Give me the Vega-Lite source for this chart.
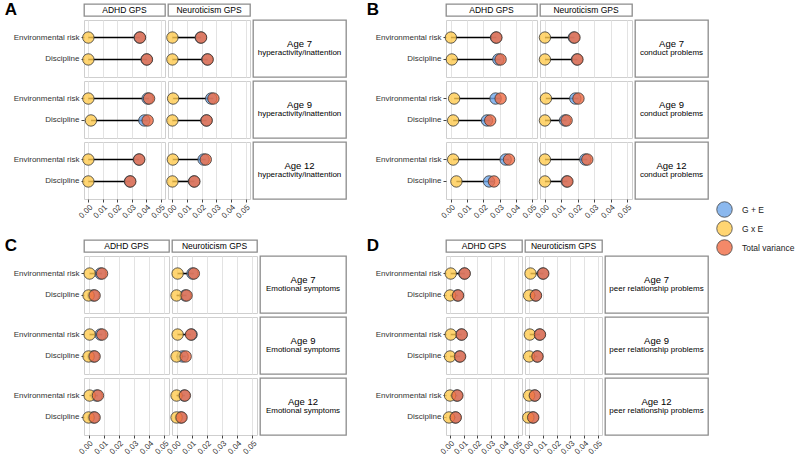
{
"$schema":"https://vega.github.io/schema/vega-lite/v6.json",
"padding":{"left":4,"top":1,"right":2,"bottom":0},
"background":"white",
"data":{"values":[
{"k":"A7a","exp":"Environmental risk","G + E":0.0355,"G x E":0.0,"Total variance":0.0357},
{"k":"A7a","exp":"Discipline","G + E":0.0403,"G x E":0.0,"Total variance":0.0405},
{"k":"A7n","exp":"Environmental risk","G + E":0.0194,"G x E":0.0,"Total variance":0.0196},
{"k":"A7n","exp":"Discipline","G + E":0.0238,"G x E":0.0,"Total variance":0.0241},
{"k":"A9a","exp":"Environmental risk","G + E":0.041,"G x E":0.0,"Total variance":0.042},
{"k":"A9a","exp":"Discipline","G + E":0.0387,"G x E":0.0018,"Total variance":0.041},
{"k":"A9n","exp":"Environmental risk","G + E":0.0265,"G x E":0.0005,"Total variance":0.028},
{"k":"A9n","exp":"Discipline","G + E":0.0232,"G x E":0.0,"Total variance":0.0234},
{"k":"A12a","exp":"Environmental risk","G + E":0.035,"G x E":0.0,"Total variance":0.0352},
{"k":"A12a","exp":"Discipline","G + E":0.0288,"G x E":0.0,"Total variance":0.029},
{"k":"A12n","exp":"Environmental risk","G + E":0.0213,"G x E":0.0003,"Total variance":0.0228},
{"k":"A12n","exp":"Discipline","G + E":0.0148,"G x E":0.0,"Total variance":0.015},
{"k":"B7a","exp":"Environmental risk","G + E":0.0278,"G x E":0.0,"Total variance":0.028},
{"k":"B7a","exp":"Discipline","G + E":0.0292,"G x E":0.0006,"Total variance":0.0306},
{"k":"B7n","exp":"Environmental risk","G + E":0.0176,"G x E":0.0,"Total variance":0.018},
{"k":"B7n","exp":"Discipline","G + E":0.0195,"G x E":0.0,"Total variance":0.0198},
{"k":"B9a","exp":"Environmental risk","G + E":0.0275,"G x E":0.002,"Total variance":0.0306},
{"k":"B9a","exp":"Discipline","G + E":0.0222,"G x E":0.0014,"Total variance":0.0242},
{"k":"B9n","exp":"Environmental risk","G + E":0.0185,"G x E":0.0006,"Total variance":0.0204},
{"k":"B9n","exp":"Discipline","G + E":0.0122,"G x E":0.0,"Total variance":0.0132},
{"k":"B12a","exp":"Environmental risk","G + E":0.0337,"G x E":0.0014,"Total variance":0.0358},
{"k":"B12a","exp":"Discipline","G + E":0.0235,"G x E":0.0034,"Total variance":0.0265},
{"k":"B12n","exp":"Environmental risk","G + E":0.0246,"G x E":0.0,"Total variance":0.0258},
{"k":"B12n","exp":"Discipline","G + E":0.0133,"G x E":0.0,"Total variance":0.0137},
{"k":"C7a","exp":"Environmental risk","G + E":0.0079,"G x E":0.0007,"Total variance":0.0089},
{"k":"C7a","exp":"Discipline","G + E":0.0032,"G x E":0.0,"Total variance":0.004},
{"k":"C7n","exp":"Environmental risk","G + E":0.0105,"G x E":0.0007,"Total variance":0.0114},
{"k":"C7n","exp":"Discipline","G + E":0.0058,"G x E":0.0,"Total variance":0.0066},
{"k":"C9a","exp":"Environmental risk","G + E":0.0079,"G x E":0.0007,"Total variance":0.009},
{"k":"C9a","exp":"Discipline","G + E":0.0033,"G x E":0.0,"Total variance":0.004},
{"k":"C9n","exp":"Environmental risk","G + E":0.0099,"G x E":0.0007,"Total variance":0.0095},
{"k":"C9n","exp":"Discipline","G + E":0.004,"G x E":0.0,"Total variance":0.006},
{"k":"C12a","exp":"Environmental risk","G + E":0.0053,"G x E":0.0007,"Total variance":0.0062},
{"k":"C12a","exp":"Discipline","G + E":0.0033,"G x E":0.0,"Total variance":0.004},
{"k":"C12n","exp":"Environmental risk","G + E":0.005,"G x E":0.0,"Total variance":0.0055},
{"k":"C12n","exp":"Discipline","G + E":0.0028,"G x E":0.0,"Total variance":0.0033},
{"k":"D7a","exp":"Environmental risk","G + E":0.0105,"G x E":0.0005,"Total variance":0.0108},
{"k":"D7a","exp":"Discipline","G + E":0.0055,"G x E":0.0,"Total variance":0.0059},
{"k":"D7n","exp":"Environmental risk","G + E":0.01,"G x E":0.001,"Total variance":0.0103},
{"k":"D7n","exp":"Discipline","G + E":0.0046,"G x E":0.0,"Total variance":0.005},
{"k":"D9a","exp":"Environmental risk","G + E":0.0083,"G x E":0.0005,"Total variance":0.0086},
{"k":"D9a","exp":"Discipline","G + E":0.007,"G x E":0.0,"Total variance":0.0074},
{"k":"D9n","exp":"Environmental risk","G + E":0.0076,"G x E":0.0005,"Total variance":0.0079},
{"k":"D9n","exp":"Discipline","G + E":0.0058,"G x E":0.0,"Total variance":0.0061},
{"k":"D12a","exp":"Environmental risk","G + E":0.005,"G x E":0.0,"Total variance":0.0054},
{"k":"D12a","exp":"Discipline","G + E":0.0038,"G x E":-0.0008,"Total variance":0.0042},
{"k":"D12n","exp":"Environmental risk","G + E":0.004,"G x E":0.0,"Total variance":0.0042},
{"k":"D12n","exp":"Discipline","G + E":0.0027,"G x E":-0.0006,"Total variance":0.003}
]},
"vconcat":[
{"hconcat":[
{"title":"A","columns":3,"spacing":{"row":4,"column":3},"bounds":"flush","align":"each","concat":[
{"width":81,"height":12,"data":{"values":[{"t":"ADHD GPS"}]},"view":{"stroke":"#8c8c8c","strokeWidth":1.3,"fill":"white"},"mark":{"type":"text","fontSize":8.5},"encoding":{"text":{"field":"t"}}},
{"width":82,"height":12,"data":{"values":[{"t":"Neuroticism GPS"}]},"view":{"stroke":"#8c8c8c","strokeWidth":1.3,"fill":"white"},"mark":{"type":"text","fontSize":8.5},"encoding":{"text":{"field":"t"}}},
{"width":93,"height":12,"data":{"values":[]},"view":{"stroke":null},"mark":{"type":"text","text":""},"encoding":{}},
{"width":81,"height":57,"transform":[{"filter":"datum.k=='A7a'"}],"encoding":{"y":{"field":"exp","type":"nominal","title":null,"sort":["Environmental risk","Discipline"],"scale":{"padding":0.6},"axis":{}}},"layer":[{"mark":{"type":"rule","color":"black","strokeWidth":1.6},"encoding":{"x":{"field":"G x E","type":"quantitative","title":null,"scale":{"domain":[-0.003,0.053],"nice":false},"axis":{"labels":false,"ticks":false}},"x2":{"field":"Total variance"}}},{"transform":[{"fold":["G + E","G x E","Total variance"],"as":["m","v"]}],"mark":"point","encoding":{"x":{"field":"v","type":"quantitative","title":null},"color":{"field":"m","type":"nominal","title":null}}}]},
{"width":82,"height":57,"transform":[{"filter":"datum.k=='A7n'"}],"encoding":{"y":{"field":"exp","type":"nominal","title":null,"sort":["Environmental risk","Discipline"],"scale":{"padding":0.6},"axis":{"labels":false,"ticks":false}}},"layer":[{"mark":{"type":"rule","color":"black","strokeWidth":1.6},"encoding":{"x":{"field":"G x E","type":"quantitative","title":null,"scale":{"domain":[-0.003,0.053],"nice":false},"axis":{"labels":false,"ticks":false}},"x2":{"field":"Total variance"}}},{"transform":[{"fold":["G + E","G x E","Total variance"],"as":["m","v"]}],"mark":"point","encoding":{"x":{"field":"v","type":"quantitative","title":null},"color":{"field":"m","type":"nominal","title":null}}}]},
{"width":93,"height":57,"data":{"values":[{"a":"Age 7","o":"hyperactivity/inattention"}]},"view":{"stroke":"#8c8c8c","strokeWidth":1.3,"fill":"white"},"layer":[{"mark":{"type":"text","fontSize":9.5,"dy":-5},"encoding":{"text":{"field":"a"}}},{"mark":{"type":"text","fontSize":8,"dy":4.5},"encoding":{"text":{"field":"o"}}}]},
{"width":81,"height":57,"transform":[{"filter":"datum.k=='A9a'"}],"encoding":{"y":{"field":"exp","type":"nominal","title":null,"sort":["Environmental risk","Discipline"],"scale":{"padding":0.6},"axis":{}}},"layer":[{"mark":{"type":"rule","color":"black","strokeWidth":1.6},"encoding":{"x":{"field":"G x E","type":"quantitative","title":null,"scale":{"domain":[-0.003,0.053],"nice":false},"axis":{"labels":false,"ticks":false}},"x2":{"field":"Total variance"}}},{"transform":[{"fold":["G + E","G x E","Total variance"],"as":["m","v"]}],"mark":"point","encoding":{"x":{"field":"v","type":"quantitative","title":null},"color":{"field":"m","type":"nominal","title":null}}}]},
{"width":82,"height":57,"transform":[{"filter":"datum.k=='A9n'"}],"encoding":{"y":{"field":"exp","type":"nominal","title":null,"sort":["Environmental risk","Discipline"],"scale":{"padding":0.6},"axis":{"labels":false,"ticks":false}}},"layer":[{"mark":{"type":"rule","color":"black","strokeWidth":1.6},"encoding":{"x":{"field":"G x E","type":"quantitative","title":null,"scale":{"domain":[-0.003,0.053],"nice":false},"axis":{"labels":false,"ticks":false}},"x2":{"field":"Total variance"}}},{"transform":[{"fold":["G + E","G x E","Total variance"],"as":["m","v"]}],"mark":"point","encoding":{"x":{"field":"v","type":"quantitative","title":null},"color":{"field":"m","type":"nominal","title":null}}}]},
{"width":93,"height":57,"data":{"values":[{"a":"Age 9","o":"hyperactivity/inattention"}]},"view":{"stroke":"#8c8c8c","strokeWidth":1.3,"fill":"white"},"layer":[{"mark":{"type":"text","fontSize":9.5,"dy":-5},"encoding":{"text":{"field":"a"}}},{"mark":{"type":"text","fontSize":8,"dy":4.5},"encoding":{"text":{"field":"o"}}}]},
{"width":81,"height":57,"transform":[{"filter":"datum.k=='A12a'"}],"encoding":{"y":{"field":"exp","type":"nominal","title":null,"sort":["Environmental risk","Discipline"],"scale":{"padding":0.6},"axis":{}}},"layer":[{"mark":{"type":"rule","color":"black","strokeWidth":1.6},"encoding":{"x":{"field":"G x E","type":"quantitative","title":null,"scale":{"domain":[-0.003,0.053],"nice":false},"axis":{"format":".2f"}},"x2":{"field":"Total variance"}}},{"transform":[{"fold":["G + E","G x E","Total variance"],"as":["m","v"]}],"mark":"point","encoding":{"x":{"field":"v","type":"quantitative","title":null},"color":{"field":"m","type":"nominal","title":null}}}]},
{"width":82,"height":57,"transform":[{"filter":"datum.k=='A12n'"}],"encoding":{"y":{"field":"exp","type":"nominal","title":null,"sort":["Environmental risk","Discipline"],"scale":{"padding":0.6},"axis":{"labels":false,"ticks":false}}},"layer":[{"mark":{"type":"rule","color":"black","strokeWidth":1.6},"encoding":{"x":{"field":"G x E","type":"quantitative","title":null,"scale":{"domain":[-0.003,0.053],"nice":false},"axis":{"format":".2f"}},"x2":{"field":"Total variance"}}},{"transform":[{"fold":["G + E","G x E","Total variance"],"as":["m","v"]}],"mark":"point","encoding":{"x":{"field":"v","type":"quantitative","title":null},"color":{"field":"m","type":"nominal","title":null}}}]},
{"width":93,"height":57,"data":{"values":[{"a":"Age 12","o":"hyperactivity/inattention"}]},"view":{"stroke":"#8c8c8c","strokeWidth":1.3,"fill":"white"},"layer":[{"mark":{"type":"text","fontSize":9.5,"dy":-5},"encoding":{"text":{"field":"a"}}},{"mark":{"type":"text","fontSize":8,"dy":4.5},"encoding":{"text":{"field":"o"}}}]}
]},
{"title":"B","columns":3,"spacing":{"row":4,"column":3},"bounds":"flush","align":"each","concat":[
{"width":91,"height":12,"data":{"values":[{"t":"ADHD GPS"}]},"view":{"stroke":"#8c8c8c","strokeWidth":1.3,"fill":"white"},"mark":{"type":"text","fontSize":8.5},"encoding":{"text":{"field":"t"}}},
{"width":92,"height":12,"data":{"values":[{"t":"Neuroticism GPS"}]},"view":{"stroke":"#8c8c8c","strokeWidth":1.3,"fill":"white"},"mark":{"type":"text","fontSize":8.5},"encoding":{"text":{"field":"t"}}},
{"width":73,"height":12,"data":{"values":[]},"view":{"stroke":null},"mark":{"type":"text","text":""},"encoding":{}},
{"width":91,"height":57,"transform":[{"filter":"datum.k=='B7a'"}],"encoding":{"y":{"field":"exp","type":"nominal","title":null,"sort":["Environmental risk","Discipline"],"scale":{"padding":0.6},"axis":{}}},"layer":[{"mark":{"type":"rule","color":"black","strokeWidth":1.6},"encoding":{"x":{"field":"G x E","type":"quantitative","title":null,"scale":{"domain":[-0.003,0.053],"nice":false},"axis":{"labels":false,"ticks":false}},"x2":{"field":"Total variance"}}},{"transform":[{"fold":["G + E","G x E","Total variance"],"as":["m","v"]}],"mark":"point","encoding":{"x":{"field":"v","type":"quantitative","title":null},"color":{"field":"m","type":"nominal","title":null}}}]},
{"width":92,"height":57,"transform":[{"filter":"datum.k=='B7n'"}],"encoding":{"y":{"field":"exp","type":"nominal","title":null,"sort":["Environmental risk","Discipline"],"scale":{"padding":0.6},"axis":{"labels":false,"ticks":false}}},"layer":[{"mark":{"type":"rule","color":"black","strokeWidth":1.6},"encoding":{"x":{"field":"G x E","type":"quantitative","title":null,"scale":{"domain":[-0.003,0.053],"nice":false},"axis":{"labels":false,"ticks":false}},"x2":{"field":"Total variance"}}},{"transform":[{"fold":["G + E","G x E","Total variance"],"as":["m","v"]}],"mark":"point","encoding":{"x":{"field":"v","type":"quantitative","title":null},"color":{"field":"m","type":"nominal","title":null}}}]},
{"width":73,"height":57,"data":{"values":[{"a":"Age 7","o":"conduct problems"}]},"view":{"stroke":"#8c8c8c","strokeWidth":1.3,"fill":"white"},"layer":[{"mark":{"type":"text","fontSize":9.5,"dy":-5},"encoding":{"text":{"field":"a"}}},{"mark":{"type":"text","fontSize":8,"dy":4.5},"encoding":{"text":{"field":"o"}}}]},
{"width":91,"height":57,"transform":[{"filter":"datum.k=='B9a'"}],"encoding":{"y":{"field":"exp","type":"nominal","title":null,"sort":["Environmental risk","Discipline"],"scale":{"padding":0.6},"axis":{}}},"layer":[{"mark":{"type":"rule","color":"black","strokeWidth":1.6},"encoding":{"x":{"field":"G x E","type":"quantitative","title":null,"scale":{"domain":[-0.003,0.053],"nice":false},"axis":{"labels":false,"ticks":false}},"x2":{"field":"Total variance"}}},{"transform":[{"fold":["G + E","G x E","Total variance"],"as":["m","v"]}],"mark":"point","encoding":{"x":{"field":"v","type":"quantitative","title":null},"color":{"field":"m","type":"nominal","title":null}}}]},
{"width":92,"height":57,"transform":[{"filter":"datum.k=='B9n'"}],"encoding":{"y":{"field":"exp","type":"nominal","title":null,"sort":["Environmental risk","Discipline"],"scale":{"padding":0.6},"axis":{"labels":false,"ticks":false}}},"layer":[{"mark":{"type":"rule","color":"black","strokeWidth":1.6},"encoding":{"x":{"field":"G x E","type":"quantitative","title":null,"scale":{"domain":[-0.003,0.053],"nice":false},"axis":{"labels":false,"ticks":false}},"x2":{"field":"Total variance"}}},{"transform":[{"fold":["G + E","G x E","Total variance"],"as":["m","v"]}],"mark":"point","encoding":{"x":{"field":"v","type":"quantitative","title":null},"color":{"field":"m","type":"nominal","title":null}}}]},
{"width":73,"height":57,"data":{"values":[{"a":"Age 9","o":"conduct problems"}]},"view":{"stroke":"#8c8c8c","strokeWidth":1.3,"fill":"white"},"layer":[{"mark":{"type":"text","fontSize":9.5,"dy":-5},"encoding":{"text":{"field":"a"}}},{"mark":{"type":"text","fontSize":8,"dy":4.5},"encoding":{"text":{"field":"o"}}}]},
{"width":91,"height":57,"transform":[{"filter":"datum.k=='B12a'"}],"encoding":{"y":{"field":"exp","type":"nominal","title":null,"sort":["Environmental risk","Discipline"],"scale":{"padding":0.6},"axis":{}}},"layer":[{"mark":{"type":"rule","color":"black","strokeWidth":1.6},"encoding":{"x":{"field":"G x E","type":"quantitative","title":null,"scale":{"domain":[-0.003,0.053],"nice":false},"axis":{"format":".2f"}},"x2":{"field":"Total variance"}}},{"transform":[{"fold":["G + E","G x E","Total variance"],"as":["m","v"]}],"mark":"point","encoding":{"x":{"field":"v","type":"quantitative","title":null},"color":{"field":"m","type":"nominal","title":null}}}]},
{"width":92,"height":57,"transform":[{"filter":"datum.k=='B12n'"}],"encoding":{"y":{"field":"exp","type":"nominal","title":null,"sort":["Environmental risk","Discipline"],"scale":{"padding":0.6},"axis":{"labels":false,"ticks":false}}},"layer":[{"mark":{"type":"rule","color":"black","strokeWidth":1.6},"encoding":{"x":{"field":"G x E","type":"quantitative","title":null,"scale":{"domain":[-0.003,0.053],"nice":false},"axis":{"format":".2f"}},"x2":{"field":"Total variance"}}},{"transform":[{"fold":["G + E","G x E","Total variance"],"as":["m","v"]}],"mark":"point","encoding":{"x":{"field":"v","type":"quantitative","title":null},"color":{"field":"m","type":"nominal","title":null}}}]},
{"width":73,"height":57,"data":{"values":[{"a":"Age 12","o":"conduct problems"}]},"view":{"stroke":"#8c8c8c","strokeWidth":1.3,"fill":"white"},"layer":[{"mark":{"type":"text","fontSize":9.5,"dy":-5},"encoding":{"text":{"field":"a"}}},{"mark":{"type":"text","fontSize":8,"dy":4.5},"encoding":{"text":{"field":"o"}}}]}
]}
],"spacing":19},
{"hconcat":[
{"title":"C","columns":3,"spacing":{"row":4,"column":3},"bounds":"flush","align":"each","concat":[
{"width":85,"height":12,"data":{"values":[{"t":"ADHD GPS"}]},"view":{"stroke":"#8c8c8c","strokeWidth":1.3,"fill":"white"},"mark":{"type":"text","fontSize":8.5},"encoding":{"text":{"field":"t"}}},
{"width":85,"height":12,"data":{"values":[{"t":"Neuroticism GPS"}]},"view":{"stroke":"#8c8c8c","strokeWidth":1.3,"fill":"white"},"mark":{"type":"text","fontSize":8.5},"encoding":{"text":{"field":"t"}}},
{"width":86,"height":12,"data":{"values":[]},"view":{"stroke":null},"mark":{"type":"text","text":""},"encoding":{}},
{"width":85,"height":57,"transform":[{"filter":"datum.k=='C7a'"}],"encoding":{"y":{"field":"exp","type":"nominal","title":null,"sort":["Environmental risk","Discipline"],"scale":{"padding":0.6},"axis":{}}},"layer":[{"mark":{"type":"rule","color":"black","strokeWidth":1.6},"encoding":{"x":{"field":"G x E","type":"quantitative","title":null,"scale":{"domain":[-0.003,0.053],"nice":false},"axis":{"labels":false,"ticks":false}},"x2":{"field":"Total variance"}}},{"transform":[{"fold":["G + E","G x E","Total variance"],"as":["m","v"]}],"mark":"point","encoding":{"x":{"field":"v","type":"quantitative","title":null},"color":{"field":"m","type":"nominal","title":null}}}]},
{"width":85,"height":57,"transform":[{"filter":"datum.k=='C7n'"}],"encoding":{"y":{"field":"exp","type":"nominal","title":null,"sort":["Environmental risk","Discipline"],"scale":{"padding":0.6},"axis":{"labels":false,"ticks":false}}},"layer":[{"mark":{"type":"rule","color":"black","strokeWidth":1.6},"encoding":{"x":{"field":"G x E","type":"quantitative","title":null,"scale":{"domain":[-0.003,0.053],"nice":false},"axis":{"labels":false,"ticks":false}},"x2":{"field":"Total variance"}}},{"transform":[{"fold":["G + E","G x E","Total variance"],"as":["m","v"]}],"mark":"point","encoding":{"x":{"field":"v","type":"quantitative","title":null},"color":{"field":"m","type":"nominal","title":null}}}]},
{"width":86,"height":57,"data":{"values":[{"a":"Age 7","o":"Emotional symptoms"}]},"view":{"stroke":"#8c8c8c","strokeWidth":1.3,"fill":"white"},"layer":[{"mark":{"type":"text","fontSize":9.5,"dy":-5},"encoding":{"text":{"field":"a"}}},{"mark":{"type":"text","fontSize":8,"dy":4.5},"encoding":{"text":{"field":"o"}}}]},
{"width":85,"height":57,"transform":[{"filter":"datum.k=='C9a'"}],"encoding":{"y":{"field":"exp","type":"nominal","title":null,"sort":["Environmental risk","Discipline"],"scale":{"padding":0.6},"axis":{}}},"layer":[{"mark":{"type":"rule","color":"black","strokeWidth":1.6},"encoding":{"x":{"field":"G x E","type":"quantitative","title":null,"scale":{"domain":[-0.003,0.053],"nice":false},"axis":{"labels":false,"ticks":false}},"x2":{"field":"Total variance"}}},{"transform":[{"fold":["G + E","G x E","Total variance"],"as":["m","v"]}],"mark":"point","encoding":{"x":{"field":"v","type":"quantitative","title":null},"color":{"field":"m","type":"nominal","title":null}}}]},
{"width":85,"height":57,"transform":[{"filter":"datum.k=='C9n'"}],"encoding":{"y":{"field":"exp","type":"nominal","title":null,"sort":["Environmental risk","Discipline"],"scale":{"padding":0.6},"axis":{"labels":false,"ticks":false}}},"layer":[{"mark":{"type":"rule","color":"black","strokeWidth":1.6},"encoding":{"x":{"field":"G x E","type":"quantitative","title":null,"scale":{"domain":[-0.003,0.053],"nice":false},"axis":{"labels":false,"ticks":false}},"x2":{"field":"Total variance"}}},{"transform":[{"fold":["G + E","G x E","Total variance"],"as":["m","v"]}],"mark":"point","encoding":{"x":{"field":"v","type":"quantitative","title":null},"color":{"field":"m","type":"nominal","title":null}}}]},
{"width":86,"height":57,"data":{"values":[{"a":"Age 9","o":"Emotional symptoms"}]},"view":{"stroke":"#8c8c8c","strokeWidth":1.3,"fill":"white"},"layer":[{"mark":{"type":"text","fontSize":9.5,"dy":-5},"encoding":{"text":{"field":"a"}}},{"mark":{"type":"text","fontSize":8,"dy":4.5},"encoding":{"text":{"field":"o"}}}]},
{"width":85,"height":57,"transform":[{"filter":"datum.k=='C12a'"}],"encoding":{"y":{"field":"exp","type":"nominal","title":null,"sort":["Environmental risk","Discipline"],"scale":{"padding":0.6},"axis":{}}},"layer":[{"mark":{"type":"rule","color":"black","strokeWidth":1.6},"encoding":{"x":{"field":"G x E","type":"quantitative","title":null,"scale":{"domain":[-0.003,0.053],"nice":false},"axis":{"format":".2f"}},"x2":{"field":"Total variance"}}},{"transform":[{"fold":["G + E","G x E","Total variance"],"as":["m","v"]}],"mark":"point","encoding":{"x":{"field":"v","type":"quantitative","title":null},"color":{"field":"m","type":"nominal","title":null}}}]},
{"width":85,"height":57,"transform":[{"filter":"datum.k=='C12n'"}],"encoding":{"y":{"field":"exp","type":"nominal","title":null,"sort":["Environmental risk","Discipline"],"scale":{"padding":0.6},"axis":{"labels":false,"ticks":false}}},"layer":[{"mark":{"type":"rule","color":"black","strokeWidth":1.6},"encoding":{"x":{"field":"G x E","type":"quantitative","title":null,"scale":{"domain":[-0.003,0.053],"nice":false},"axis":{"format":".2f"}},"x2":{"field":"Total variance"}}},{"transform":[{"fold":["G + E","G x E","Total variance"],"as":["m","v"]}],"mark":"point","encoding":{"x":{"field":"v","type":"quantitative","title":null},"color":{"field":"m","type":"nominal","title":null}}}]},
{"width":86,"height":57,"data":{"values":[{"a":"Age 12","o":"Emotional symptoms"}]},"view":{"stroke":"#8c8c8c","strokeWidth":1.3,"fill":"white"},"layer":[{"mark":{"type":"text","fontSize":9.5,"dy":-5},"encoding":{"text":{"field":"a"}}},{"mark":{"type":"text","fontSize":8,"dy":4.5},"encoding":{"text":{"field":"o"}}}]}
]},
{"title":"D","columns":3,"spacing":{"row":4,"column":3},"bounds":"flush","align":"each","concat":[
{"width":76,"height":12,"data":{"values":[{"t":"ADHD GPS"}]},"view":{"stroke":"#8c8c8c","strokeWidth":1.3,"fill":"white"},"mark":{"type":"text","fontSize":8.5},"encoding":{"text":{"field":"t"}}},
{"width":77,"height":12,"data":{"values":[{"t":"Neuroticism GPS"}]},"view":{"stroke":"#8c8c8c","strokeWidth":1.3,"fill":"white"},"mark":{"type":"text","fontSize":8.5},"encoding":{"text":{"field":"t"}}},
{"width":103,"height":12,"data":{"values":[]},"view":{"stroke":null},"mark":{"type":"text","text":""},"encoding":{}},
{"width":76,"height":57,"transform":[{"filter":"datum.k=='D7a'"}],"encoding":{"y":{"field":"exp","type":"nominal","title":null,"sort":["Environmental risk","Discipline"],"scale":{"padding":0.6},"axis":{}}},"layer":[{"mark":{"type":"rule","color":"black","strokeWidth":1.6},"encoding":{"x":{"field":"G x E","type":"quantitative","title":null,"scale":{"domain":[-0.003,0.053],"nice":false},"axis":{"labels":false,"ticks":false}},"x2":{"field":"Total variance"}}},{"transform":[{"fold":["G + E","G x E","Total variance"],"as":["m","v"]}],"mark":"point","encoding":{"x":{"field":"v","type":"quantitative","title":null},"color":{"field":"m","type":"nominal","title":null}}}]},
{"width":77,"height":57,"transform":[{"filter":"datum.k=='D7n'"}],"encoding":{"y":{"field":"exp","type":"nominal","title":null,"sort":["Environmental risk","Discipline"],"scale":{"padding":0.6},"axis":{"labels":false,"ticks":false}}},"layer":[{"mark":{"type":"rule","color":"black","strokeWidth":1.6},"encoding":{"x":{"field":"G x E","type":"quantitative","title":null,"scale":{"domain":[-0.003,0.053],"nice":false},"axis":{"labels":false,"ticks":false}},"x2":{"field":"Total variance"}}},{"transform":[{"fold":["G + E","G x E","Total variance"],"as":["m","v"]}],"mark":"point","encoding":{"x":{"field":"v","type":"quantitative","title":null},"color":{"field":"m","type":"nominal","title":null}}}]},
{"width":103,"height":57,"data":{"values":[{"a":"Age 7","o":"peer relationship problems"}]},"view":{"stroke":"#8c8c8c","strokeWidth":1.3,"fill":"white"},"layer":[{"mark":{"type":"text","fontSize":9.5,"dy":-5},"encoding":{"text":{"field":"a"}}},{"mark":{"type":"text","fontSize":8,"dy":4.5},"encoding":{"text":{"field":"o"}}}]},
{"width":76,"height":57,"transform":[{"filter":"datum.k=='D9a'"}],"encoding":{"y":{"field":"exp","type":"nominal","title":null,"sort":["Environmental risk","Discipline"],"scale":{"padding":0.6},"axis":{}}},"layer":[{"mark":{"type":"rule","color":"black","strokeWidth":1.6},"encoding":{"x":{"field":"G x E","type":"quantitative","title":null,"scale":{"domain":[-0.003,0.053],"nice":false},"axis":{"labels":false,"ticks":false}},"x2":{"field":"Total variance"}}},{"transform":[{"fold":["G + E","G x E","Total variance"],"as":["m","v"]}],"mark":"point","encoding":{"x":{"field":"v","type":"quantitative","title":null},"color":{"field":"m","type":"nominal","title":null}}}]},
{"width":77,"height":57,"transform":[{"filter":"datum.k=='D9n'"}],"encoding":{"y":{"field":"exp","type":"nominal","title":null,"sort":["Environmental risk","Discipline"],"scale":{"padding":0.6},"axis":{"labels":false,"ticks":false}}},"layer":[{"mark":{"type":"rule","color":"black","strokeWidth":1.6},"encoding":{"x":{"field":"G x E","type":"quantitative","title":null,"scale":{"domain":[-0.003,0.053],"nice":false},"axis":{"labels":false,"ticks":false}},"x2":{"field":"Total variance"}}},{"transform":[{"fold":["G + E","G x E","Total variance"],"as":["m","v"]}],"mark":"point","encoding":{"x":{"field":"v","type":"quantitative","title":null},"color":{"field":"m","type":"nominal","title":null}}}]},
{"width":103,"height":57,"data":{"values":[{"a":"Age 9","o":"peer relationship problems"}]},"view":{"stroke":"#8c8c8c","strokeWidth":1.3,"fill":"white"},"layer":[{"mark":{"type":"text","fontSize":9.5,"dy":-5},"encoding":{"text":{"field":"a"}}},{"mark":{"type":"text","fontSize":8,"dy":4.5},"encoding":{"text":{"field":"o"}}}]},
{"width":76,"height":57,"transform":[{"filter":"datum.k=='D12a'"}],"encoding":{"y":{"field":"exp","type":"nominal","title":null,"sort":["Environmental risk","Discipline"],"scale":{"padding":0.6},"axis":{}}},"layer":[{"mark":{"type":"rule","color":"black","strokeWidth":1.6},"encoding":{"x":{"field":"G x E","type":"quantitative","title":null,"scale":{"domain":[-0.003,0.053],"nice":false},"axis":{"format":".2f"}},"x2":{"field":"Total variance"}}},{"transform":[{"fold":["G + E","G x E","Total variance"],"as":["m","v"]}],"mark":"point","encoding":{"x":{"field":"v","type":"quantitative","title":null},"color":{"field":"m","type":"nominal","title":null}}}]},
{"width":77,"height":57,"transform":[{"filter":"datum.k=='D12n'"}],"encoding":{"y":{"field":"exp","type":"nominal","title":null,"sort":["Environmental risk","Discipline"],"scale":{"padding":0.6},"axis":{"labels":false,"ticks":false}}},"layer":[{"mark":{"type":"rule","color":"black","strokeWidth":1.6},"encoding":{"x":{"field":"G x E","type":"quantitative","title":null,"scale":{"domain":[-0.003,0.053],"nice":false},"axis":{"format":".2f"}},"x2":{"field":"Total variance"}}},{"transform":[{"fold":["G + E","G x E","Total variance"],"as":["m","v"]}],"mark":"point","encoding":{"x":{"field":"v","type":"quantitative","title":null},"color":{"field":"m","type":"nominal","title":null}}}]},
{"width":103,"height":57,"data":{"values":[{"a":"Age 12","o":"peer relationship problems"}]},"view":{"stroke":"#8c8c8c","strokeWidth":1.3,"fill":"white"},"layer":[{"mark":{"type":"text","fontSize":9.5,"dy":-5},"encoding":{"text":{"field":"a"}}},{"mark":{"type":"text","fontSize":8,"dy":4.5},"encoding":{"text":{"field":"o"}}}]}
]}
],"spacing":19}
],
"spacing":16,
"config":{
"font":"Liberation Sans",
"view":{"stroke":"#cfcfcf","strokeWidth":1},
"axis":{"domain":false,"gridColor":"#e3e3e3","gridWidth":1,"labelColor":"#333","labelFontSize":8,"tickColor":"#444","tickSize":3,"labelPadding":2},
"axisX":{"labelAngle":-45,"tickCount":6,"labelPadding":1,"labelOverlap":false},
"point":{"filled":true,"size":130,"opacity":1,"fillOpacity":0.8,"stroke":"#333","strokeWidth":0.8},
"range":{"category":["#6ea6ea","#ffca4f","#f06c44"]},
"legend":{"orient":"none","legendX":632,"legendY":197,"symbolSize":240,"symbolType":"circle","symbolStrokeColor":"#444","symbolStrokeWidth":0.8,"symbolFillOpacity":0.85,"labelFontSize":8.5,"labelColor":"#222","rowPadding":0,"labelOffset":9},
"title":{"anchor":"start","frame":"bounds","fontSize":17,"fontWeight":"bold","color":"#000","offset":0,"dx":-8,"dy":20},
"text":{"color":"#000"}
}
}
